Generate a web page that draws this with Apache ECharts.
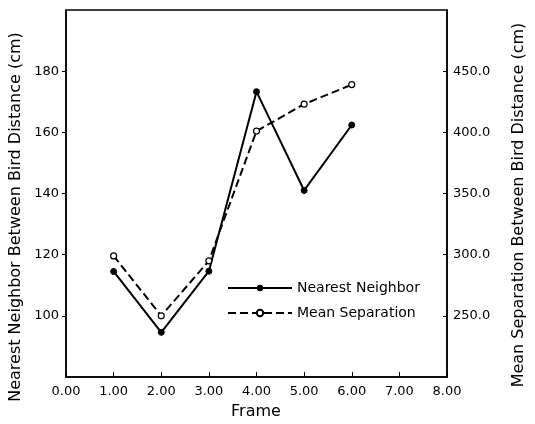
<!DOCTYPE html>
<html>
<head>
<meta charset="utf-8">
<script src="https://cdn.jsdelivr.net/npm/echarts@6/dist/echarts.min.js"></script>
<style>
html,body{margin:0;padding:0;background:#fff;}
#chart{width:535px;height:424px;}
</style>
</head>
<body>
<div id="chart"></div>
<script>
var frames = [1, 2, 3, 4, 5, 6];
var nearestNeighbor = [114.5, 94.6, 114.6, 173.3, 141.0, 162.4];
var meanSeparation = [299, 250, 295, 401, 423, 439];
var seriesNames = ['Nearest Neighbor', 'Mean Separation'];
var xTitle = 'Frame';
var leftTitle = 'Nearest Neighbor Between Bird Distance (cm)';
var rightTitle = 'Mean Separation Between Bird Distance (cm)';

var FONT = 'DejaVu Sans';
var chart = echarts.init(document.getElementById('chart'));
function pairs(xs, ys) { return xs.map(function (x, i) { return [x, ys[i]]; }); }

chart.setOption({
  animation: false,
  backgroundColor: '#fff',
  textStyle: { fontFamily: FONT, color: '#000' },
  grid: { left: 66, right: 88, top: 10, bottom: 47, show: true, borderColor: '#000', borderWidth: 1.5, backgroundColor: 'transparent' },
  legend: {
    left: 222, top: 276, orient: 'vertical', itemGap: 11,
    itemWidth: 64, itemHeight: 8,
    textStyle: { fontFamily: FONT, fontSize: 14, color: '#000' },
    data: seriesNames
  },
  xAxis: {
    type: 'value', min: 0, max: 8, interval: 1,
    axisLine: { lineStyle: { color: '#000', width: 1.5 } },
    axisTick: { inside: true, length: 5, lineStyle: { color: '#000' } },
    splitLine: { show: false },
    axisLabel: { fontFamily: FONT, fontSize: 13, color: '#000', margin: 8,
      formatter: function (v) { return v.toFixed(2); } }
  },
  yAxis: [{
    type: 'value', position: 'left', min: 80, max: 200, interval: 20,
    axisLine: { show: true, lineStyle: { color: '#000', width: 1.5 } },
    axisTick: { show: true, inside: false, length: 4, lineStyle: { color: '#000' } },
    splitLine: { show: false },
    axisLabel: { fontFamily: FONT, fontSize: 13, color: '#000', margin: 7, showMinLabel: false, showMaxLabel: false }
  }, {
    type: 'value', position: 'right', min: 200, max: 500, interval: 50,
    axisLine: { show: true, lineStyle: { color: '#000', width: 1.5 } },
    axisTick: { show: true, inside: true, length: 4, lineStyle: { color: '#000' } },
    splitLine: { show: false },
    axisLabel: { fontFamily: FONT, fontSize: 13, color: '#000', margin: 6, showMinLabel: false, showMaxLabel: false,
      formatter: function (v) { return v.toFixed(1); } }
  }],
  graphic: [
    { type: 'text', x: 16, y: 217, rotation: Math.PI / 2,
      style: { text: leftTitle, fontFamily: FONT, fontSize: 16, fill: '#000', align: 'center', verticalAlign: 'middle' } },
    { type: 'text', x: 519, y: 205, rotation: Math.PI / 2,
      style: { text: rightTitle, fontFamily: FONT, fontSize: 16, fill: '#000', align: 'center', verticalAlign: 'middle' } },
    { type: 'text', x: 256, y: 412,
      style: { text: xTitle, fontFamily: FONT, fontSize: 16, fill: '#000', align: 'center', verticalAlign: 'middle' } }
  ],
  series: [{
    name: seriesNames[0], type: 'line', yAxisIndex: 0,
    data: pairs(frames, nearestNeighbor),
    symbol: 'circle', symbolSize: 6,
    itemStyle: { color: '#000', borderColor: '#000' },
    lineStyle: { color: '#000', width: 2 }
  }, {
    name: seriesNames[1], type: 'line', yAxisIndex: 1,
    data: pairs(frames, meanSeparation),
    symbol: 'circle', symbolSize: 6,
    itemStyle: { color: '#fff', borderColor: '#000', borderWidth: 1.2 },
    lineStyle: { color: '#000', width: 2, type: [8, 4] }
  }]
});
</script>
</body>
</html>
